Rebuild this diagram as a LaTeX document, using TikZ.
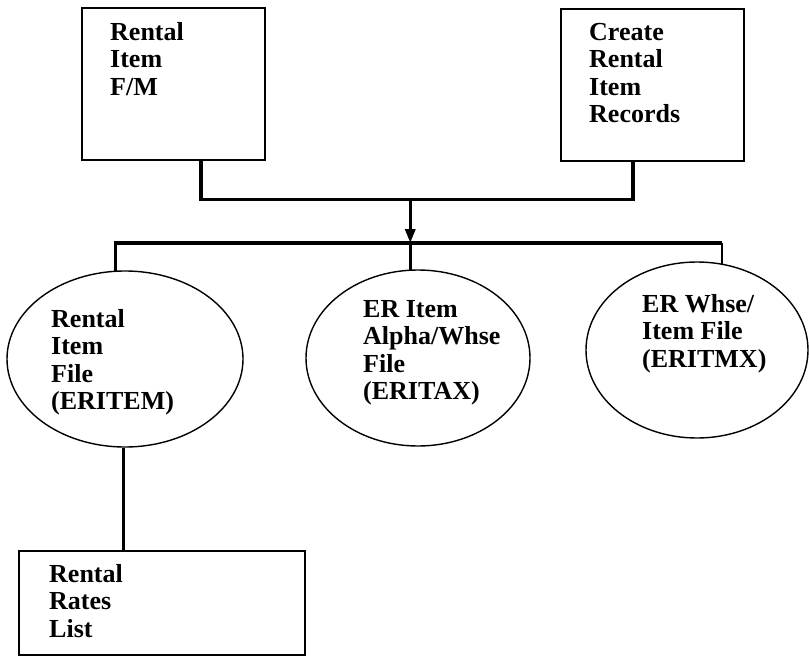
\documentclass[tikz,border=0pt]{standalone}
\usepackage{fontspec}
\setmainfont{Liberation Serif}
\usetikzlibrary{shapes.geometric,arrows.meta,calc}
\begin{document}
\begin{tikzpicture}[x=1pt,y=-1pt,
  box/.style={draw, line width=1.6pt, rectangle, inner sep=0pt, anchor=north west},
  oval/.style={draw, line width=1.4pt, ellipse, inner sep=0pt},
  conn/.style={line width=3.2pt, line join=miter},
  thinconn/.style={line width=1.6pt},
  txt/.style={anchor=base west, inner sep=0pt, font=\fontsize{26}{27.5}\selectfont\bfseries}]
\useasboundingbox (0,0) rectangle (809,656);

% programs and report
\node[box, minimum width=183pt, minimum height=152pt] (fm) at (81,7) {};
\node[box, minimum width=183pt, minimum height=152pt] (cr) at (560,8) {};
\node[box, minimum width=286pt, minimum height=104pt] (rl) at (18,550) {};

% files
\node[oval, minimum width=236pt, minimum height=176pt] (e1) at (125,359) {};
\node[oval, minimum width=224pt, minimum height=176pt] (e2) at (418,358) {};
\node[oval, minimum width=222pt, minimum height=176pt] (e3) at (697,350) {};

% labels
\node[txt] (t1) at (110,40) {\begin{tabular}[t]{@{}l@{}}Rental\\Item\\F/M\end{tabular}};
\node[txt] (t2) at (589,40) {\begin{tabular}[t]{@{}l@{}}Create\\Rental\\Item\\Records\end{tabular}};
\node[txt] (t3) at (51,327) {\begin{tabular}[t]{@{}l@{}}Rental\\Item\\File\\(ERITEM)\end{tabular}};
\node[txt] (t4) at (363,317) {\begin{tabular}[t]{@{}l@{}}ER Item\\Alpha/Whse\\File\\(ERITAX)\end{tabular}};
\node[txt] (t5) at (642,312) {\begin{tabular}[t]{@{}l@{}}ER Whse/\\Item File\\(ERITMX)\end{tabular}};
\node[txt] (t6) at (49,582) {\begin{tabular}[t]{@{}l@{}}Rental\\Rates\\List\end{tabular}};

% upper connector joining both programs
\coordinate (fmout) at ($(fm.south west)+(120,0)$);
\coordinate (crout) at ($(cr.south west)+(73,0)$);
\draw[conn] (fmout) -- ++(0,39) coordinate (c1) -- (c1 -| crout) -- (crout);

% bus feeding the three files
\coordinate (b1) at (e1.96.5 |- 0,243);
\coordinate (b2) at (e2.95.2 |- 0,243);
\coordinate (b3) at (e3.74 |- 0,243);
\draw[conn] (e1.96.5) -- (b1) -- (b3);
\draw[conn] (b2) -- (e2.95.2);
\draw[thinconn] (b3) -- (e3.74);
\draw[conn, -{Triangle[length=14pt,width=10pt]}] (c1 -| b2) -- (b2);

% file to report
\draw[conn] (e1.-91) -- (e1.-91 |- rl.north);
\end{tikzpicture}
\end{document}
